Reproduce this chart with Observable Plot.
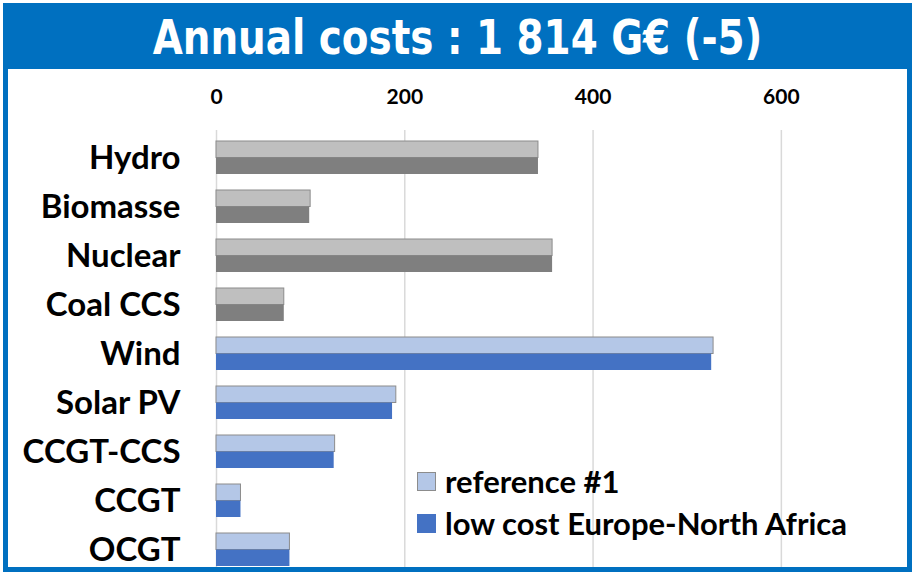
<!DOCTYPE html>
<html>
<head>
<meta charset="utf-8">
<script src="https://cdn.jsdelivr.net/npm/d3@7"></script>
<script src="https://cdn.jsdelivr.net/npm/@observablehq/plot@0.6"></script>
<style>
  html, body { margin: 0; padding: 0; background: #fff; }
  #wrap { position: relative; width: 912px; height: 572px; overflow: hidden; background: #fff; }
  #chart { position: absolute; left: 0; top: 0; }
  #frame { position: absolute; left: 3px; top: 3px; width: 899px; height: 559px; border: 5px solid #0070C0; box-sizing: content-box; pointer-events: none; }
  #banner { position: absolute; left: 3px; top: 3px; width: 909px; height: 66px; background: #0070C0; }
  #title { position: absolute; left: 0; width: 909px; top: 0; line-height: 68px; text-align: center; color: #fff;
           font-family: "DejaVu Sans Condensed", "DejaVu Sans", sans-serif; font-weight: bold; font-size: 48px;
           white-space: nowrap; transform: scaleX(0.9); transform-origin: 50% 50%; }
  #legend { position: absolute; left: 417px; top: 460px; font-family: Lato, sans-serif; font-weight: bold; font-size: 31px; color: #000; }
  .item { display: flex; align-items: center; height: 42px; }
  .sw { width: 19px; height: 19px; margin-right: 9px; box-sizing: border-box; flex: none; }
</style>
</head>
<body>
<div id="wrap">
  <div id="chart"></div>
  <div id="frame"></div>
  <div id="banner"><div id="title">Annual costs : 1 814 G€ (-5)</div></div>
  <div id="legend"></div>
</div>
<script>
const categories = ["Hydro", "Biomasse", "Nuclear", "Coal CCS", "Wind", "Solar PV", "CCGT-CCS", "CCGT", "OCGT"];
const reference1 = [342, 100, 357, 72, 528, 191, 126, 26, 78];
const lowCostEuropeNorthAfrica = [342, 99, 357, 72, 526, 187, 125, 26, 78];
const xTicks = [0, 200, 400, 600];
const seriesNames = ["reference #1", "low cost Europe-North Africa"];

const greyCats = new Set(["Hydro", "Biomasse", "Nuclear", "Coal CCS"]);
const data = categories.map((c, i) => ({category: c, ref: reference1[i], low: lowCostEuropeNorthAfrica[i], grey: greyCats.has(c)}));

const chart = Plot.plot({
  width: 912,
  height: 572,
  marginLeft: 216,
  marginRight: 37,
  marginTop: 130,
  marginBottom: 0,
  style: {fontFamily: "Lato, sans-serif", background: "transparent", color: "#000"},
  x: {domain: [0, 700]},
  y: {domain: categories, range: [122.7, 583.7], paddingInner: 0.33, paddingOuter: 0.33},
  marks: [
    Plot.ruleX(xTicks.slice(1), {stroke: "#d9d9d9", strokeWidth: 1.5}),
    Plot.ruleX([0], {stroke: "#d9d9d9", strokeWidth: 1.5}),
    Plot.axisX({anchor: "top", ticks: xTicks, tickSize: 0, tickPadding: 27, fontSize: 21, fontWeight: "bold", label: null}),
    Plot.axisY({anchor: "left", tickSize: 0, tickPadding: 36, fontSize: 33, fontWeight: "bold", label: null}),
    Plot.barX(data, {x: "ref", y: "category", insetBottom: 16.5, fill: d => d.grey ? "#BFBFBF" : "#B4C7E7", stroke: "#8c8c8c", strokeWidth: 1}),
    Plot.barX(data, {x: "low", y: "category", insetTop: 16.5, fill: d => d.grey ? "#7F7F7F" : "#4472C4"})
  ]
});
document.getElementById("chart").appendChild(chart);

const legend = document.getElementById("legend");
const swatches = [{fill: "#B4C7E7", stroke: "#8c8c8c"}, {fill: "#4472C4", stroke: "#4472C4"}];
seriesNames.forEach((name, i) => {
  const item = document.createElement("div");
  item.className = "item";
  const sw = document.createElement("span");
  sw.className = "sw";
  sw.style.background = swatches[i].fill;
  sw.style.border = "1.5px solid " + swatches[i].stroke;
  const t = document.createElement("span");
  t.textContent = name;
  item.appendChild(sw);
  item.appendChild(t);
  legend.appendChild(item);
});
</script>
</body>
</html>
